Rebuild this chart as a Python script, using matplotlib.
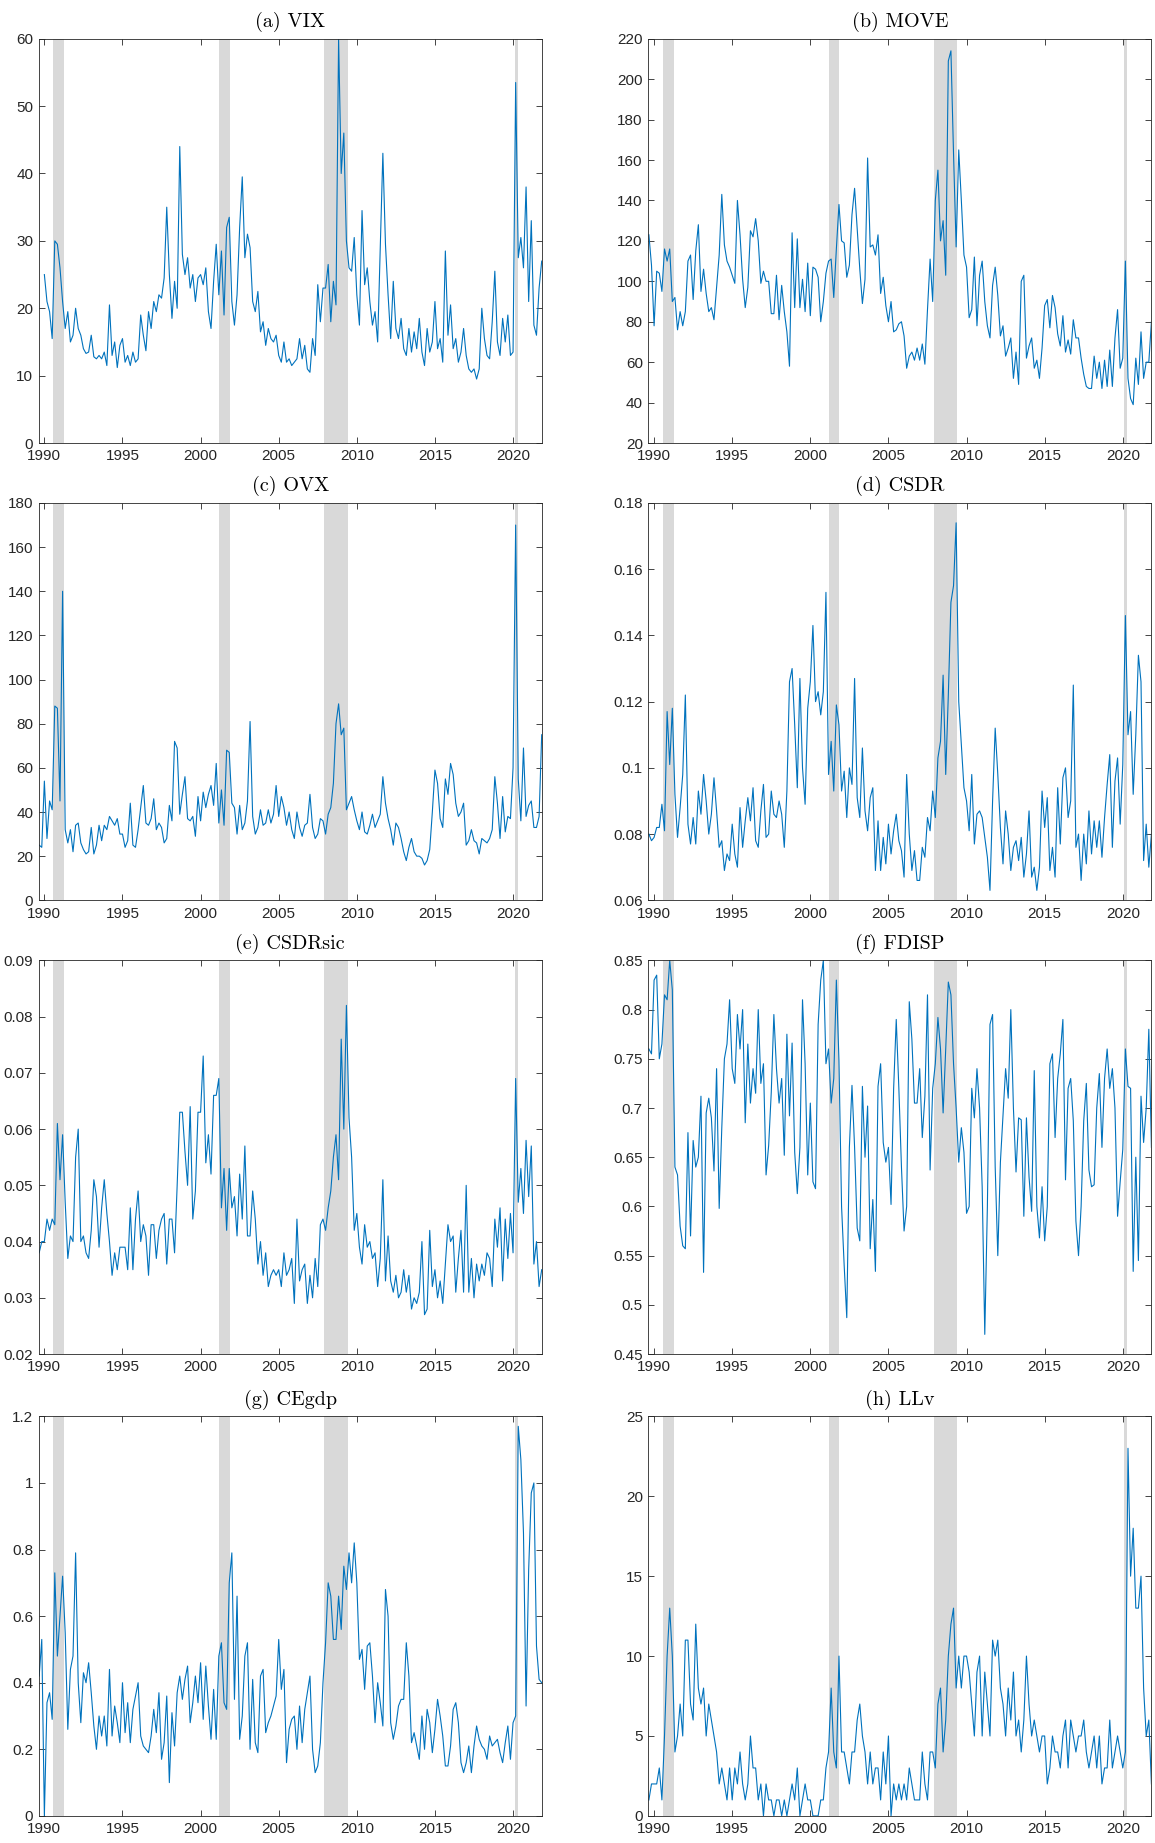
import numpy as np
import matplotlib
matplotlib.use('Agg')
import matplotlib.pyplot as plt
from matplotlib.ticker import FixedLocator, FuncFormatter

# ---------------- data (bimonthly readings) ----------------
vix_start = 1990.0
vix = [25, 21, 19.5, 15.5, 30, 29.5,
       26, 21, 17, 19.5, 15, 16,
       20, 17, 16, 14, 13.3, 13.5,
       16, 12.8, 12.5, 13, 12.5, 13.5,
       11.5, 20.5, 13, 15, 11.2, 14.5,
       15.5, 12, 13, 11.5, 13.5, 12,
       12.5, 19, 16, 13.7, 19.5, 17,
       21, 19.5, 22, 21.5, 24.5, 35,
       25, 18.5, 24, 20, 44, 28,
       25, 27.5, 23, 25, 21, 24.5,
       25, 23.5, 26, 19.5, 17, 24,
       29.5, 22, 28.5, 19, 32, 33.5,
       21, 17.5, 22, 32, 39.5, 27.5,
       31, 29, 21, 19.5, 22.5, 16.5,
       18, 14.5, 17, 15.5, 15, 16,
       13, 12, 15, 12, 12.5, 11.5,
       12, 12.5, 15.5, 12.5, 14.5, 11,
       10.5, 15.5, 13, 23.5, 18, 23,
       23, 26.5, 18, 24, 20.5, 60,
       40, 46, 30, 26, 25.5, 30.5,
       22, 17.5, 34.5, 23.5, 26, 21,
       17.5, 19.5, 15, 29, 43, 29.5,
       22, 15.5, 24, 17, 15.5, 18.5,
       14, 13, 17, 13.5, 16.5, 14,
       18.5, 13.5, 11.5, 17, 13.5, 15,
       21, 14, 15.5, 12, 28.5, 16,
       20.5, 14, 15.5, 12, 13.5, 17,
       13, 11, 10.5, 11, 9.5, 11,
       20, 15.5, 13, 12.5, 18, 25.5,
       15, 13, 18.5, 15, 19, 13,
       13.5, 53.5, 27.5, 30.5, 26, 38,
       21, 33, 17.5, 16, 23, 27]

series_start = 1989 + 8 / 12

move = [123, 108,
        78, 105, 104, 95, 116, 110,
        116, 90, 92, 76, 85, 78,
        85, 110, 113, 91, 115, 128,
        95, 106, 94, 85, 87, 81,
        97, 113, 143, 118, 110, 107,
        103, 99, 140, 123, 101, 87,
        97, 125, 122, 131, 120, 99,
        105, 100, 100, 84, 84, 103,
        81, 98, 85, 75, 58, 124,
        87, 121, 87, 101, 85, 109,
        83, 107, 106, 102, 80, 90,
        104, 110, 111, 92, 116, 138,
        120, 119, 102, 108, 133, 146,
        126, 106, 89, 101, 161, 117,
        118, 113, 123, 94, 102, 88,
        80, 90, 75, 76, 79, 80,
        73, 57, 63, 65, 61, 67,
        61, 69, 59, 86, 111, 90,
        140, 155, 120, 130, 103, 209,
        214, 163, 117, 165, 140, 113,
        107, 82, 86, 112, 78, 103,
        110, 90, 78, 72, 98, 107,
        93, 73, 78, 63, 67, 72,
        52, 65, 49, 100, 103, 62,
        68, 72, 57, 61, 52, 67,
        88, 91, 77, 93, 87, 74,
        68, 83, 65, 71, 64, 81,
        72, 72, 62, 54, 48, 47,
        47, 63, 52, 60, 47, 61,
        48, 66, 48, 72, 86, 57,
        62, 110, 52, 42, 39, 62,
        49, 75, 52, 60, 60, 80]

ovx = [25, 24,
       54, 28, 45, 41, 88, 87,
       45, 140, 32, 26, 32, 22,
       34, 35, 26, 23, 21, 22,
       33, 21, 25, 34, 27, 34,
       32, 38, 36, 34, 37, 30,
       30, 24, 27, 44, 25, 24,
       32, 42, 52, 35, 34, 37,
       46, 32, 35, 33, 26, 28,
       43, 36, 72, 69, 39, 48,
       56, 37, 36, 38, 29, 47,
       36, 49, 42, 48, 52, 43,
       62, 35, 50, 34, 68, 67,
       44, 42, 30, 43, 32, 35,
       45, 81, 38, 30, 33, 41,
       34, 35, 41, 35, 39, 52,
       38, 47, 42, 34, 40, 32,
       28, 40, 33, 29, 34, 35,
       48, 33, 28, 30, 37, 36,
       30, 39, 42, 53, 80, 89,
       75, 78, 41, 44, 47, 41,
       36, 32, 40, 31, 30, 34,
       39, 33, 36, 39, 56, 44,
       37, 32, 25, 35, 33, 28,
       22, 18, 24, 28, 22, 20,
       20, 19, 16, 18, 23, 40,
       59, 53, 37, 33, 55, 48,
       62, 57, 44, 38, 40, 44,
       25, 27, 32, 27, 26, 21,
       28, 27, 26, 28, 32, 56,
       44, 28, 47, 31, 38, 37,
       60, 170, 55, 36, 69, 38,
       43, 45, 33, 33, 38, 75]

csdr = [0.080, 0.078,
        0.079, 0.082, 0.082, 0.089, 0.081, 0.117,
        0.101, 0.118, 0.092, 0.079, 0.088, 0.098,
        0.122, 0.083, 0.077, 0.085, 0.077, 0.093,
        0.086, 0.098, 0.090, 0.080, 0.086, 0.097,
        0.087, 0.076, 0.078, 0.069, 0.074, 0.072,
        0.083, 0.074, 0.070, 0.088, 0.076, 0.084,
        0.091, 0.084, 0.094, 0.078, 0.076, 0.087,
        0.095, 0.079, 0.080, 0.093, 0.086, 0.085,
        0.090, 0.086, 0.076, 0.093, 0.126, 0.130,
        0.113, 0.094, 0.127, 0.100, 0.089, 0.118,
        0.126, 0.143, 0.120, 0.123, 0.116, 0.123,
        0.153, 0.098, 0.108, 0.093, 0.119, 0.113,
        0.093, 0.099, 0.085, 0.100, 0.095, 0.127,
        0.091, 0.085, 0.106, 0.087, 0.081, 0.091,
        0.094, 0.069, 0.084, 0.069, 0.079, 0.071,
        0.083, 0.074, 0.081, 0.086, 0.078, 0.075,
        0.067, 0.098, 0.080, 0.069, 0.075, 0.066,
        0.066, 0.076, 0.073, 0.085, 0.081, 0.093,
        0.085, 0.103, 0.108, 0.128, 0.098, 0.122,
        0.150, 0.155, 0.174, 0.120, 0.107, 0.094,
        0.090, 0.081, 0.098, 0.077, 0.086, 0.087,
        0.085, 0.079, 0.073, 0.063, 0.090, 0.112,
        0.098, 0.082, 0.071, 0.087, 0.080, 0.069,
        0.076, 0.078, 0.072, 0.079, 0.067, 0.074,
        0.087, 0.067, 0.070, 0.063, 0.070, 0.093,
        0.082, 0.091, 0.069, 0.076, 0.067, 0.094,
        0.077, 0.097, 0.100, 0.085, 0.090, 0.125,
        0.076, 0.080, 0.066, 0.080, 0.071, 0.087,
        0.074, 0.084, 0.076, 0.084, 0.073, 0.085,
        0.095, 0.104, 0.076, 0.096, 0.103, 0.083,
        0.101, 0.146, 0.110, 0.117, 0.092, 0.110,
        0.134, 0.126, 0.072, 0.083, 0.070, 0.080]

csdrsic = [0.038, 0.040,
           0.040, 0.044, 0.042, 0.044, 0.043, 0.061,
           0.051, 0.059, 0.047, 0.037, 0.041, 0.040,
           0.055, 0.060, 0.040, 0.041, 0.038, 0.037,
           0.042, 0.051, 0.048, 0.039, 0.046, 0.051,
           0.045, 0.040, 0.034, 0.038, 0.035, 0.039,
           0.039, 0.039, 0.035, 0.046, 0.035, 0.044,
           0.049, 0.040, 0.043, 0.041, 0.034, 0.043,
           0.043, 0.037, 0.042, 0.044, 0.045, 0.036,
           0.044, 0.044, 0.038, 0.050, 0.063, 0.063,
           0.056, 0.050, 0.064, 0.044, 0.049, 0.063,
           0.063, 0.073, 0.054, 0.059, 0.052, 0.066,
           0.066, 0.069, 0.046, 0.053, 0.042, 0.053,
           0.046, 0.048, 0.041, 0.052, 0.044, 0.057,
           0.041, 0.041, 0.049, 0.044, 0.036, 0.040,
           0.034, 0.038, 0.032, 0.034, 0.035, 0.034,
           0.035, 0.032, 0.038, 0.034, 0.035, 0.037,
           0.029, 0.044, 0.033, 0.035, 0.036, 0.029,
           0.034, 0.030, 0.037, 0.032, 0.043, 0.044,
           0.042, 0.046, 0.049, 0.055, 0.059, 0.051,
           0.076, 0.060, 0.082, 0.062, 0.055, 0.042,
           0.045, 0.039, 0.036, 0.043, 0.039, 0.040,
           0.037, 0.038, 0.032, 0.037, 0.051, 0.033,
           0.041, 0.033, 0.031, 0.034, 0.030, 0.031,
           0.035, 0.031, 0.034, 0.028, 0.030, 0.029,
           0.031, 0.040, 0.027, 0.028, 0.042, 0.032,
           0.035, 0.030, 0.033, 0.029, 0.036, 0.043,
           0.040, 0.041, 0.031, 0.037, 0.042, 0.031,
           0.050, 0.031, 0.037, 0.030, 0.036, 0.033,
           0.036, 0.034, 0.038, 0.037, 0.032, 0.044,
           0.039, 0.046, 0.033, 0.044, 0.037, 0.045,
           0.038, 0.069, 0.047, 0.053, 0.045, 0.058,
           0.048, 0.057, 0.036, 0.040, 0.032, 0.035]

fdisp = [0.760, 0.755,
         0.830, 0.835, 0.750, 0.765, 0.815, 0.810,
         0.850, 0.820, 0.640, 0.632, 0.580, 0.560,
         0.557, 0.675, 0.570, 0.667, 0.640, 0.650,
         0.712, 0.533, 0.695, 0.710, 0.690, 0.636,
         0.740, 0.598, 0.680, 0.750, 0.765, 0.810,
         0.740, 0.725, 0.795, 0.760, 0.800, 0.685,
         0.765, 0.705, 0.740, 0.715, 0.800, 0.725,
         0.745, 0.632, 0.662, 0.716, 0.795, 0.740,
         0.705, 0.730, 0.652, 0.775, 0.692, 0.766,
         0.655, 0.613, 0.660, 0.810, 0.745, 0.632,
         0.705, 0.625, 0.618, 0.785, 0.830, 0.850,
         0.745, 0.760, 0.705, 0.730, 0.830, 0.748,
         0.600, 0.540, 0.487, 0.660, 0.723, 0.660,
         0.578, 0.565, 0.722, 0.650, 0.702, 0.557,
         0.607, 0.534, 0.722, 0.745, 0.665, 0.645,
         0.660, 0.602, 0.720, 0.790, 0.720, 0.640,
         0.575, 0.600, 0.808, 0.770, 0.705, 0.705,
         0.740, 0.670, 0.712, 0.815, 0.637, 0.720,
         0.745, 0.792, 0.760, 0.695, 0.760, 0.828,
         0.815, 0.745, 0.700, 0.645, 0.680, 0.655,
         0.593, 0.600, 0.720, 0.690, 0.740, 0.700,
         0.620, 0.470, 0.600, 0.785, 0.795, 0.640,
         0.550, 0.645, 0.693, 0.740, 0.710, 0.800,
         0.700, 0.635, 0.690, 0.688, 0.590, 0.690,
         0.630, 0.595, 0.738, 0.600, 0.568, 0.620,
         0.565, 0.600, 0.745, 0.755, 0.670, 0.730,
         0.755, 0.790, 0.627, 0.720, 0.730, 0.687,
         0.585, 0.550, 0.600, 0.687, 0.725, 0.637,
         0.620, 0.622, 0.700, 0.735, 0.660, 0.730,
         0.760, 0.720, 0.740, 0.700, 0.590, 0.625,
         0.658, 0.760, 0.722, 0.720, 0.534, 0.650,
         0.545, 0.712, 0.665, 0.700, 0.780, 0.660]

cegdp = [0.42, 0.53,
         0.0, 0.34, 0.37, 0.29, 0.73, 0.48,
         0.60, 0.72, 0.55, 0.26, 0.44, 0.48,
         0.79, 0.40, 0.28, 0.43, 0.40, 0.46,
         0.37, 0.27, 0.20, 0.30, 0.24, 0.30,
         0.21, 0.44, 0.24, 0.33, 0.28, 0.22,
         0.40, 0.25, 0.34, 0.22, 0.32, 0.36,
         0.40, 0.24, 0.21, 0.20, 0.19, 0.24,
         0.32, 0.25, 0.37, 0.17, 0.22, 0.36,
         0.10, 0.31, 0.21, 0.37, 0.42, 0.35,
         0.41, 0.45, 0.28, 0.34, 0.42, 0.34,
         0.46, 0.29, 0.45, 0.33, 0.23, 0.38,
         0.23, 0.48, 0.52, 0.34, 0.32, 0.70,
         0.79, 0.35, 0.66, 0.23, 0.30, 0.48,
         0.52, 0.20, 0.41, 0.22, 0.19, 0.42,
         0.44, 0.25, 0.28, 0.30, 0.33, 0.36,
         0.53, 0.38, 0.44, 0.16, 0.26, 0.29,
         0.30, 0.20, 0.33, 0.22, 0.32, 0.37,
         0.42, 0.20, 0.13, 0.15, 0.22, 0.40,
         0.52, 0.70, 0.66, 0.53, 0.53, 0.66,
         0.56, 0.75, 0.68, 0.79, 0.70, 0.82,
         0.70, 0.47, 0.50, 0.38, 0.51, 0.52,
         0.42, 0.28, 0.40, 0.34, 0.27, 0.68,
         0.60, 0.28, 0.23, 0.27, 0.33, 0.35,
         0.35, 0.52, 0.42, 0.22, 0.25, 0.21,
         0.17, 0.30, 0.20, 0.32, 0.28, 0.19,
         0.26, 0.35, 0.30, 0.24, 0.15, 0.15,
         0.21, 0.32, 0.34, 0.28, 0.16, 0.13,
         0.16, 0.21, 0.13, 0.21, 0.27, 0.23,
         0.21, 0.20, 0.17, 0.24, 0.21, 0.22,
         0.23, 0.19, 0.16, 0.22, 0.27, 0.17,
         0.28, 0.30, 1.17, 1.07, 0.85, 0.33,
         0.74, 0.97, 1.00, 0.51, 0.41, 0.40]

llv = [1, 2,
       2, 2, 3, 1, 5, 10,
       13, 10, 4, 5, 7, 5,
       11, 11, 7, 6, 12, 8,
       7, 8, 5, 7, 6, 5,
       4, 2, 3, 2, 1, 3,
       1, 3, 2, 4, 2, 1,
       2, 5, 3, 3, 1, 2,
       0, 2, 1, 1, 0, 1,
       1, 0, 1, 0, 1, 2,
       1, 3, 0, 1, 2, 1,
       1, 0, 0, 0, 1, 1,
       3, 4, 8, 4, 3, 10,
       4, 4, 3, 2, 4, 4,
       6, 7, 5, 4, 2, 4,
       2, 3, 3, 1, 4, 2,
       5, 0, 2, 1, 2, 1,
       2, 1, 3, 2, 1, 1,
       1, 4, 2, 1, 4, 4,
       3, 7, 8, 4, 6, 10,
       12, 13, 8, 10, 8, 10,
       10, 9, 7, 5, 9, 10,
       5, 9, 7, 5, 11, 10,
       11, 8, 7, 5, 8, 6,
       9, 5, 6, 4, 6, 10,
       7, 5, 6, 5, 4, 5,
       5, 2, 3, 5, 4, 4,
       3, 5, 6, 3, 6, 5,
       4, 5, 5, 6, 4, 3,
       4, 5, 3, 5, 2, 3,
       3, 6, 3, 4, 5, 4,
       3, 4, 23, 15, 18, 13,
       13, 15, 8, 5, 6, 2]

titles = ['(a) VIX', '(b) MOVE', '(c) OVX', '(d) CSDR',
          '(e) CSDRsic', '(f) FDISP', '(g) CEgdp', '(h) LLv']
recessions = [(1990.58, 1991.25), (2001.2, 2001.86),
              (2007.92, 2009.42), (2020.1, 2020.3)]
x_ticks = [1990, 1995, 2000, 2005, 2010, 2015, 2020]
y_ranges = [(0, 60, 10), (20, 220, 20), (0, 180, 20), (0.06, 0.18, 0.02),
            (0.02, 0.09, 0.01), (0.45, 0.85, 0.05), (0, 1.2, 0.2), (0, 25, 5)]

# ---------------- figure ----------------
W, H = 1155, 1843
fig = plt.figure(figsize=(W / 100, H / 100), dpi=100)

col_x = [0.0335, 0.5614]
col_w = 0.4355
rows = [(0.7596, 0.2194), (0.5115, 0.2156), (0.2653, 0.2136), (0.0147, 0.2168)]

data = [(vix_start, vix), (series_start, move), (series_start, ovx),
        (series_start, csdr), (series_start, csdrsic), (series_start, fdisp),
        (series_start, cegdp), (series_start, llv)]

line_color = '#0072BD'
axis_color = '#262626'
xlim = (series_start - 0.03, series_start + 193 / 6)

fmt = FuncFormatter(lambda v, p: ('%g' % round(v, 6)))

for i in range(8):
    r, c = divmod(i, 2)
    b, h = rows[r]
    ax = fig.add_axes([col_x[c], b, col_w, h])
    start, vals = data[i]
    vals = np.asarray(vals, dtype=float)
    t = start + np.arange(len(vals)) / 6.0
    for (s, e) in recessions:
        ax.axvspan(s, e, color='#d9d9d9', lw=0, zorder=0)
    ax.plot(t, vals, color=line_color, lw=0.8, zorder=2)
    lo, hi, st = y_ranges[i]
    ax.set_ylim(lo, hi)
    ax.set_xlim(*xlim)
    yt = np.round(np.arange(lo, hi + st / 2, st), 6)
    ax.yaxis.set_major_locator(FixedLocator(yt))
    ax.yaxis.set_major_formatter(fmt)
    ax.xaxis.set_major_locator(FixedLocator(x_ticks))
    ax.xaxis.set_major_formatter(FuncFormatter(lambda v, p: '%d' % v))
    ax.tick_params(direction='in', top=True, right=True, length=4, width=0.6,
                   colors=axis_color, labelsize=11)
    ax.tick_params(axis='x', pad=4.5)
    ax.tick_params(axis='y', pad=4)
    for lab in ax.get_xticklabels() + ax.get_yticklabels():
        lab.set_fontfamily('Liberation Sans')
    for sp in ax.spines.values():
        sp.set_linewidth(0.6)
        sp.set_color(axis_color)
    ax.set_title(titles[i], fontname='cmr10', fontsize=14.5, pad=8.5, color='black')

fig.savefig('out.png', dpi=100)
